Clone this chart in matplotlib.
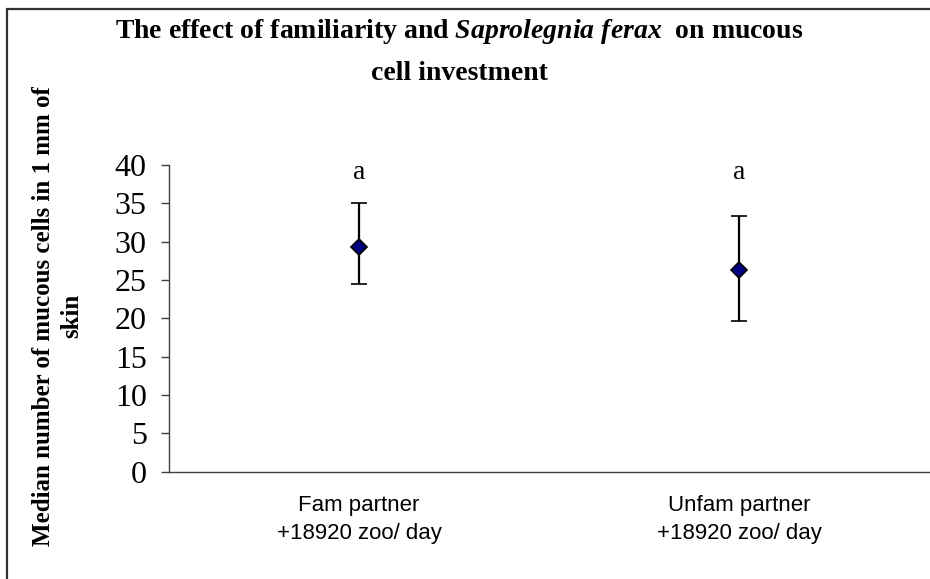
import matplotlib
matplotlib.use('Agg')
import matplotlib.pyplot as plt
from matplotlib.patches import Rectangle
import numpy as np

# ---- data ----
groups = ['Fam partner\n+18920 zoo/ day', 'Unfam partner\n+18920 zoo/ day']
medians = [29.35, 26.3]
upper = [35.1, 33.35]
lower = [24.5, 19.6]
letters = ['a', 'a']
y_ticks = [0, 5, 10, 15, 20, 25, 30, 35, 40]

plt.rcParams['mathtext.fontset'] = 'custom'
plt.rcParams['mathtext.rm'] = 'Liberation Serif:bold'
plt.rcParams['mathtext.it'] = 'Liberation Serif:italic:bold'

W, H = 930, 579
fig = plt.figure(figsize=(W / 100, H / 100), dpi=100)
fig.patch.set_facecolor('white')

# outer chart-area border (Excel style), right/bottom edges fall outside the picture
fig.patches.append(Rectangle((7 / W, -0.05), 1.2, 1 - 9 / H + 0.05,
                             transform=fig.transFigure, fill=False,
                             edgecolor='#333333', linewidth=1.6))

ax = fig.add_axes([169 / W, 1 - 471.7 / H, 760 / W, 306.7 / H])

x = np.arange(1, len(groups) + 1)
med = np.array(medians)
yerr = [med - np.array(lower), np.array(upper) - med]
ax.errorbar(x, med, yerr=yerr, fmt='D', color='black', ecolor='black',
            elinewidth=1.6, capsize=6, capthick=1.6,
            markerfacecolor='#000080', markeredgecolor='black',
            markeredgewidth=1.2, markersize=8)

# significance letters
for xi, lt in zip(x, letters):
    ax.text(xi, 39, lt, ha='center', va='center', fontsize=20,
            family='Liberation Serif')

ax.set_xlim(0.5, 2.5)
ax.set_ylim(0, 40)
ax.set_yticks(y_ticks)
ax.set_yticklabels([str(t) for t in y_ticks], family='Liberation Serif', fontsize=23)
ax.set_xticks(x)
ax.set_xticklabels(groups, family='Liberation Sans', fontsize=16, linespacing=1.4)
ax.tick_params(axis='x', length=0, pad=17)
ax.tick_params(axis='y', length=6, width=1, color='#404040', pad=10, direction='out')

for s in ['top', 'right']:
    ax.spines[s].set_visible(False)
for s in ['left', 'bottom']:
    ax.spines[s].set_color('#404040')
    ax.spines[s].set_linewidth(1)

# y axis title (two lines, bold serif)
fig.text(58 / W, 1 - 316 / H, 'Median number of mucous cells in 1 mm of\nskin',
         rotation=90, ha='center', va='center', multialignment='center',
         family='Liberation Serif', fontweight='bold', fontsize=18, linespacing=1.3)

# chart title
fig.text(459 / W, 1 - 32 / H,
         'The effect of familiarity and $\\mathit{Saprolegnia\\ ferax}$  on mucous',
         ha='center', va='center', family='Liberation Serif', fontweight='bold',
         fontsize=20)
fig.text(459 / W, 1 - 73 / H, 'cell investment',
         ha='center', va='center', family='Liberation Serif', fontweight='bold',
         fontsize=20)

fig.savefig('out.png', dpi=100)
